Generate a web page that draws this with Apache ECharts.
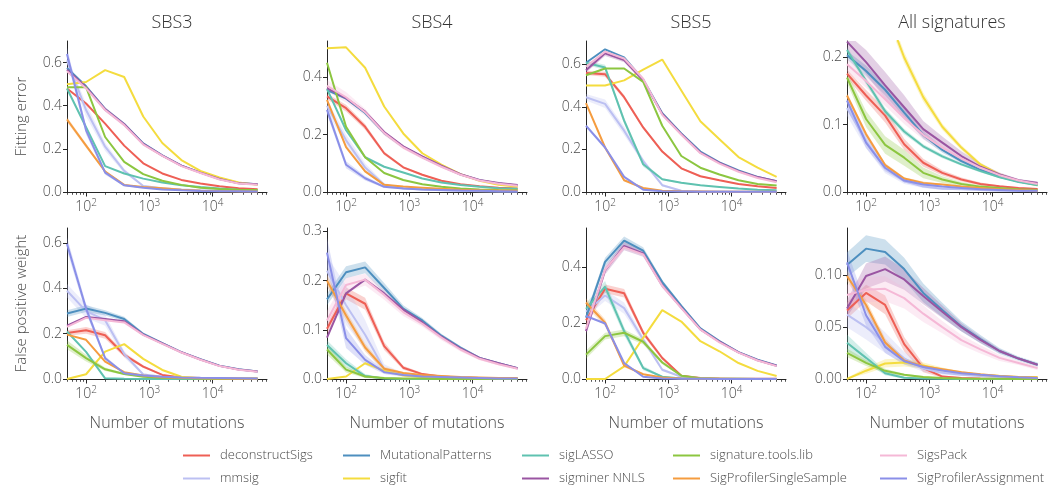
<!DOCTYPE html>
<html><head><meta charset="utf-8">
<script src="https://cdn.jsdelivr.net/npm/echarts@6/dist/echarts.min.js"></script>
<style>html,body{margin:0;padding:0;background:#fff}#c{width:1051px;height:485px}</style>
</head><body><div id="c"></div><script>
// ---------------- data ----------------
const X = [50,100,200,400,800,1600,3200,6400,12800,25600,51200];
const SERIES = ['deconstructSigs','mmsig','MutationalPatterns','sigfit','sigLASSO','sigminer NNLS','signature.tools.lib','SigProfilerSingleSample','SigsPack','SigProfilerAssignment'];
const COLORS = ['#ee5f55','#bcc0f2','#4d8fbf','#f4dc3e','#5fc2b0','#9a55a2','#8cc640','#f59c3f','#f5b8d6','#8a8fe8'];
const PANEL_TITLES = ['SBS3','SBS4','SBS5','All signatures'];
const ROW_NAMES = ['Fitting error','False positive weight'];
const X_NAME = 'Number of mutations';
const X_MAJOR = [100,1000,10000];
const X_MINOR = [50,60,70,80,90,200,300,400,500,600,700,800,900,2000,3000,4000,5000,6000,7000,8000,9000,20000,30000,40000,50000,60000,70000];
const X_RANGE = [50,72000];
const Y_MAX_FIT = [0.70,0.526,0.709,0.2245];
const Y_TICKS_FIT = [[0,0.2,0.4,0.6],[0,0.2,0.4],[0,0.2,0.4,0.6],[0,0.1,0.2]];
const Y_MAX_FP = [0.667,0.307,0.539,0.1456];
const Y_TICKS_FP = [[0,0.2,0.4,0.6],[0,0.1,0.2,0.3],[0,0.2,0.4],[0,0.05,0.1]];
const Y_DEC_FP = [1,1,1,2];

// rows in SERIES order
const FIT_SBS3 = [
 [0.48,0.41,0.317,0.215,0.133,0.086,0.056,0.039,0.027,0.017,0.0125],
 [0.61,0.38,0.21,0.098,0.028,0.017,0.012,0.008,0.006,0.004,0.003],
 [0.575,0.49,0.385,0.315,0.225,0.17,0.122,0.09,0.06,0.042,0.036],
 [0.50,0.51,0.565,0.533,0.35,0.227,0.148,0.098,0.067,0.044,0.033],
 [0.48,0.30,0.12,0.086,0.062,0.044,0.031,0.023,0.016,0.011,0.008],
 [0.567,0.486,0.383,0.314,0.223,0.169,0.122,0.09,0.06,0.04,0.036],
 [0.486,0.486,0.255,0.14,0.083,0.052,0.033,0.02,0.014,0.011,0.009],
 [0.336,0.215,0.095,0.033,0.023,0.017,0.011,0.006,0.004,0.003,0.002],
 [0.56,0.48,0.38,0.31,0.22,0.167,0.12,0.088,0.058,0.039,0.034],
 [0.64,0.286,0.09,0.031,0.02,0.012,0.008,0.005,0.004,0.003,0.002]
];
const FIT_SBS4 = [
 [0.333,0.292,0.227,0.135,0.086,0.06,0.039,0.027,0.02,0.015,0.012],
 [0.30,0.18,0.085,0.025,0.013,0.009,0.006,0.004,0.003,0.002,0.002],
 [0.355,0.325,0.275,0.205,0.157,0.122,0.09,0.061,0.041,0.03,0.023],
 [0.501,0.504,0.433,0.298,0.204,0.135,0.095,0.062,0.039,0.025,0.018],
 [0.359,0.215,0.121,0.088,0.068,0.047,0.033,0.024,0.018,0.013,0.011],
 [0.362,0.327,0.28,0.209,0.159,0.124,0.092,0.062,0.042,0.031,0.024],
 [0.45,0.227,0.121,0.066,0.042,0.027,0.018,0.012,0.009,0.007,0.006],
 [0.321,0.156,0.072,0.025,0.019,0.015,0.011,0.008,0.006,0.005,0.004],
 [0.37,0.33,0.278,0.205,0.155,0.12,0.088,0.06,0.04,0.029,0.022],
 [0.286,0.095,0.048,0.018,0.012,0.009,0.007,0.005,0.004,0.003,0.002]
];
const FIT_SBS5 = [
 [0.559,0.553,0.445,0.303,0.19,0.111,0.074,0.055,0.038,0.027,0.019],
 [0.445,0.414,0.288,0.145,0.032,0.006,0.003,0.002,0.001,0.001,0.001],
 [0.607,0.67,0.632,0.528,0.37,0.275,0.19,0.139,0.101,0.071,0.051],
 [0.50,0.50,0.524,0.575,0.622,0.477,0.332,0.248,0.164,0.114,0.071],
 [0.607,0.585,0.335,0.13,0.06,0.043,0.032,0.024,0.016,0.011,0.008],
 [0.572,0.651,0.619,0.524,0.366,0.272,0.185,0.137,0.098,0.07,0.051],
 [0.548,0.58,0.58,0.517,0.311,0.169,0.114,0.082,0.055,0.038,0.03],
 [0.417,0.209,0.055,0.019,0.006,0.003,0.002,0.001,0.001,0.001,0.001],
 [0.588,0.659,0.627,0.532,0.362,0.269,0.182,0.133,0.095,0.066,0.046],
 [0.311,0.209,0.071,0.011,0.003,0.002,0.001,0.001,0.001,0.001,0.001]
];
const FIT_ALL = [
 [0.176,0.1435,0.1135,0.071,0.0435,0.0285,0.0185,0.012,0.0085,0.006,0.0045],
 [0.125,0.075,0.035,0.016,0.008,0.005,0.004,0.003,0.002,0.002,0.001],
 [0.2035,0.18,0.152,0.118,0.085,0.0625,0.046,0.033,0.023,0.0155,0.011],
 [0.48,0.38,0.275,0.2,0.141,0.097,0.066,0.041,0.026,0.016,0.01],
 [0.211,0.165,0.12,0.09,0.068,0.053,0.041,0.031,0.022,0.015,0.01],
 [0.2235,0.193,0.1585,0.126,0.0935,0.0735,0.0535,0.0375,0.026,0.0175,0.0135],
 [0.17,0.1085,0.07,0.051,0.0285,0.0185,0.012,0.008,0.006,0.004,0.003],
 [0.1435,0.086,0.04,0.02,0.0135,0.011,0.008,0.006,0.004,0.003,0.002],
 [0.19,0.165,0.138,0.11,0.085,0.066,0.05,0.036,0.025,0.017,0.012],
 [0.136,0.0735,0.036,0.017,0.011,0.008,0.006,0.004,0.003,0.002,0.002]
];
const FP_SBS3 = [
 [0.203,0.215,0.193,0.107,0.055,0.018,0.007,0.004,0.003,0.002,0.001],
 [0.39,0.30,0.26,0.11,0.02,0.01,0.006,0.004,0.003,0.002,0.002],
 [0.289,0.311,0.292,0.265,0.199,0.158,0.119,0.087,0.059,0.043,0.033],
 [0.0,0.021,0.121,0.154,0.089,0.04,0.01,0.003,0.001,0.001,0.001],
 [0.21,0.12,0.003,0.001,0,0,0,0,0,0,0],
 [0.236,0.274,0.265,0.255,0.196,0.157,0.118,0.086,0.058,0.042,0.033],
 [0.151,0.092,0.043,0.022,0.01,0.005,0.003,0.002,0.001,0.001,0.001],
 [0.196,0.173,0.077,0.03,0.015,0.008,0.005,0.003,0.002,0.001,0.001],
 [0.23,0.27,0.26,0.25,0.194,0.155,0.117,0.085,0.057,0.041,0.032],
 [0.596,0.311,0.092,0.025,0.015,0.01,0.007,0.005,0.004,0.003,0.002]
];
const FP_SBS4 = [
 [0.102,0.174,0.153,0.067,0.023,0.01,0.005,0.003,0.002,0.001,0.001],
 [0.22,0.15,0.09,0.02,0.008,0.005,0.003,0.002,0.001,0.001,0.001],
 [0.162,0.217,0.227,0.185,0.143,0.119,0.088,0.064,0.043,0.032,0.022],
 [0.0,0.005,0.032,0.017,0.007,0.004,0.002,0.001,0.001,0.001,0.001],
 [0.069,0.032,0.006,0.001,0,0,0,0,0,0,0],
 [0.084,0.174,0.202,0.174,0.141,0.115,0.086,0.062,0.043,0.032,0.022],
 [0.06,0.019,0.005,0.002,0.001,0.001,0,0,0,0,0],
 [0.2,0.129,0.064,0.021,0.012,0.008,0.006,0.004,0.003,0.002,0.002],
 [0.119,0.191,0.202,0.171,0.136,0.112,0.084,0.06,0.041,0.03,0.021],
 [0.257,0.083,0.039,0.014,0.008,0.005,0.004,0.003,0.002,0.001,0.001]
];
const FP_SBS5 = [
 [0.21,0.322,0.306,0.165,0.075,0.012,0.004,0.002,0.001,0.001,0.001],
 [0.24,0.298,0.253,0.141,0.033,0.008,0.003,0.002,0.001,0.001,0.001],
 [0.219,0.418,0.494,0.458,0.346,0.261,0.181,0.135,0.096,0.069,0.048],
 [0,0,0.045,0.147,0.246,0.205,0.135,0.099,0.057,0.029,0.011],
 [0.25,0.33,0.171,0.039,0.008,0.002,0.001,0,0,0,0],
 [0.171,0.388,0.475,0.448,0.334,0.255,0.177,0.133,0.095,0.067,0.047],
 [0.087,0.153,0.165,0.133,0.059,0.012,0.003,0.001,0.001,0,0],
 [0.273,0.201,0.048,0.017,0.005,0.002,0.001,0.001,0,0,0],
 [0.18,0.39,0.47,0.445,0.332,0.253,0.176,0.131,0.094,0.066,0.046],
 [0.225,0.198,0.057,0.008,0.002,0.001,0.001,0,0,0,0]
];
const FP_ALL = [
 [0.066,0.083,0.0714,0.0336,0.0105,0.0023,0.001,0.0005,0.0003,0.0002,0.0001],
 [0.062,0.05,0.035,0.02,0.01,0.006,0.004,0.003,0.002,0.001,0.001],
 [0.11,0.1257,0.1224,0.106,0.083,0.0665,0.0507,0.0385,0.027,0.0197,0.0138],
 [0,0.008,0.015,0.016,0.013,0.009,0.006,0.004,0.003,0.002,0.002],
 [0.035,0.0204,0.0056,0.0013,0.0005,0.0002,0.0001,0,0,0,0],
 [0.068,0.0993,0.106,0.096,0.08,0.0648,0.05,0.0378,0.027,0.0197,0.0138],
 [0.0253,0.0155,0.0079,0.004,0.002,0.001,0.0005,0.0003,0.0002,0.0001,0.0001],
 [0.0993,0.0714,0.0352,0.0178,0.0122,0.0095,0.0066,0.0046,0.003,0.002,0.0013],
 [0.081,0.086,0.087,0.078,0.063,0.05,0.0375,0.0286,0.0204,0.0155,0.0105],
 [0.1125,0.0615,0.031,0.0171,0.0115,0.0082,0.0056,0.004,0.0026,0.0016,0.001]
];

// confidence band half-widths: [seriesIndex, values]
const BAND_FIT_SBS3 = [
 [1,[0.02,0.03,0.02,0.01,0.004,0.003,0.002,0.002,0.001,0.001,0.001]],
 [5,[0.012,0.01,0.01,0.008,0.006,0.005,0.004,0.003,0.002,0.002,0.002]],
 [7,[0.012,0.01,0.006,0.003,0.002,0.002,0.001,0.001,0.001,0.001,0.001]],
 [9,[0.03,0.02,0.01,0.004,0.002,0.002,0.001,0.001,0.001,0.001,0.001]]
];
const BAND_FIT_SBS4 = [
 [0,[0.01,0.012,0.01,0.006,0.004,0.003,0.002,0.002,0.001,0.001,0.001]],
 [1,[0.02,0.02,0.015,0.006,0.003,0.002,0.002,0.001,0.001,0.001,0.001]],
 [8,[0.02,0.018,0.012,0.008,0.006,0.005,0.004,0.003,0.002,0.002,0.002]],
 [9,[0.015,0.012,0.008,0.004,0.002,0.002,0.001,0.001,0.001,0.001,0.001]]
];
const BAND_FIT_SBS5 = [
 [0,[0.01,0.012,0.01,0.008,0.006,0.004,0.003,0.002,0.002,0.001,0.001]],
 [1,[0.015,0.02,0.02,0.012,0.006,0.002,0.001,0.001,0.001,0.001,0.001]],
 [4,[0.01,0.012,0.015,0.012,0.005,0.003,0.002,0.002,0.001,0.001,0.001]],
 [5,[0.012,0.012,0.01,0.01,0.008,0.006,0.004,0.003,0.002,0.002,0.002]]
];
const BAND_FIT_ALL = [
 [0,[0.006,0.008,0.01,0.008,0.006,0.004,0.003,0.002,0.001,0.001,0.001]],
 [1,[0.012,0.01,0.007,0.004,0.002,0.002,0.001,0.001,0.001,0.001,0.001]],
 [2,[0.006,0.008,0.008,0.007,0.006,0.004,0.003,0.002,0.002,0.001,0.001]],
 [3,[0.012,0.012,0.01,0.008,0.007,0.005,0.004,0.003,0.002,0.002,0.001]],
 [4,[0.005,0.005,0.005,0.004,0.003,0.003,0.002,0.002,0.001,0.001,0.001]],
 [5,[0.012,0.018,0.02,0.018,0.012,0.009,0.007,0.005,0.003,0.002,0.002]],
 [6,[0.008,0.012,0.013,0.012,0.008,0.005,0.003,0.002,0.001,0.001,0.001]],
 [7,[0.004,0.004,0.003,0.002,0.002,0.001,0.001,0.001,0.001,0.001,0.001]],
 [8,[0.01,0.01,0.01,0.009,0.007,0.005,0.004,0.003,0.002,0.001,0.001]],
 [9,[0.008,0.008,0.005,0.003,0.002,0.001,0.001,0.001,0.001,0.001,0.001]]
];
const BAND_FP_SBS3 = [
 [0,[0.012,0.015,0.015,0.01,0.006,0.003,0.002,0.001,0.001,0.001,0.001]],
 [1,[0.03,0.03,0.025,0.015,0.005,0.003,0.002,0.001,0.001,0.001,0.001]],
 [2,[0.015,0.015,0.012,0.01,0.006,0.005,0.004,0.003,0.002,0.002,0.002]],
 [6,[0.02,0.015,0.008,0.004,0.002,0.001,0.001,0.001,0.001,0.001,0.001]],
 [9,[0.03,0.02,0.01,0.004,0.002,0.002,0.001,0.001,0.001,0.001,0.001]]
];
const BAND_FP_SBS4 = [
 [0,[0.01,0.012,0.012,0.008,0.004,0.002,0.001,0.001,0.001,0.001,0.001]],
 [1,[0.03,0.04,0.03,0.01,0.004,0.002,0.001,0.001,0.001,0.001,0.001]],
 [2,[0.012,0.012,0.012,0.01,0.007,0.005,0.004,0.003,0.002,0.002,0.001]],
 [4,[0.01,0.008,0.004,0.001,0,0,0,0,0,0,0]],
 [6,[0.01,0.006,0.003,0.001,0,0,0,0,0,0,0]],
 [7,[0.012,0.01,0.008,0.004,0.002,0.001,0.001,0.001,0.001,0.001,0.001]],
 [8,[0.02,0.015,0.012,0.01,0.008,0.006,0.005,0.004,0.003,0.002,0.002]],
 [9,[0.03,0.02,0.01,0.004,0.002,0.001,0.001,0.001,0.001,0.001,0.001]]
];
const BAND_FP_SBS5 = [
 [0,[0.02,0.015,0.015,0.01,0.006,0.003,0.001,0.001,0.001,0.001,0.001]],
 [1,[0.02,0.02,0.02,0.012,0.005,0.002,0.001,0.001,0.001,0.001,0.001]],
 [2,[0.015,0.015,0.015,0.012,0.008,0.006,0.005,0.004,0.003,0.002,0.002]],
 [4,[0.02,0.02,0.015,0.008,0.003,0.001,0,0,0,0,0]],
 [5,[0.015,0.015,0.015,0.012,0.008,0.006,0.005,0.004,0.003,0.002,0.002]],
 [6,[0.015,0.012,0.012,0.01,0.006,0.003,0.001,0.001,0,0,0]],
 [7,[0.015,0.012,0.006,0.003,0.001,0,0,0,0,0,0]]
];
const BAND_FP_ALL = [
 [0,[0.008,0.008,0.009,0.007,0.004,0.001,0.001,0,0,0,0]],
 [1,[0.012,0.012,0.01,0.006,0.003,0.002,0.001,0.001,0.001,0,0]],
 [2,[0.012,0.013,0.012,0.011,0.009,0.007,0.005,0.004,0.003,0.002,0.002]],
 [3,[0.001,0.003,0.004,0.004,0.003,0.002,0.001,0.001,0.001,0,0]],
 [4,[0.008,0.005,0.002,0.001,0,0,0,0,0,0,0]],
 [5,[0.008,0.012,0.012,0.01,0.008,0.006,0.004,0.003,0.002,0.001,0.001]],
 [6,[0.004,0.003,0.002,0.001,0.001,0,0,0,0,0,0]],
 [7,[0.005,0.005,0.004,0.002,0.001,0.001,0.001,0,0,0,0]],
 [8,[0.01,0.012,0.012,0.01,0.008,0.006,0.005,0.004,0.003,0.002,0.002]],
 [9,[0.012,0.01,0.006,0.003,0.002,0.001,0.001,0,0,0,0]]
];

// ---------------- layout ----------------
const PANELS = [
 {row:0,col:0,data:FIT_SBS3,band:BAND_FIT_SBS3},
 {row:0,col:1,data:FIT_SBS4,band:BAND_FIT_SBS4},
 {row:0,col:2,data:FIT_SBS5,band:BAND_FIT_SBS5},
 {row:0,col:3,data:FIT_ALL,band:BAND_FIT_ALL},
 {row:1,col:0,data:FP_SBS3,band:BAND_FP_SBS3},
 {row:1,col:1,data:FP_SBS4,band:BAND_FP_SBS4},
 {row:1,col:2,data:FP_SBS5,band:BAND_FP_SBS5},
 {row:1,col:3,data:FP_ALL,band:BAND_FP_ALL}
];
const GRID_LEFT = [67,327,586,847];
const GRID_TOP = [41,228];
const GRID_H = [151,151];
const GW = 200;
const FONT = '"Open Sans", "DejaVu Sans", sans-serif';
const TXT = '#4a4a4a';
const AX = '#262626';

const grids=[], xAxes=[], yAxes=[], series=[], titles=[];
PANELS.forEach((P,p)=>{
  grids.push({left:GRID_LEFT[P.col], top:GRID_TOP[P.row], width:GW, height:GRID_H[P.row], containLabel:false});
  const isBottom = P.row===1;
  xAxes.push({
    type:'log', logBase:10, gridIndex:p, min:X_RANGE[0], max:X_RANGE[1], position:'bottom',
    axisLine:{show:true,onZero:false,lineStyle:{color:AX,width:1}},
    axisTick:{show:true,length:4.5,lineStyle:{color:AX,width:1},customValues:X_MAJOR},
    axisLabel:{customValues:X_MAJOR,color:TXT,fontFamily:FONT,fontWeight:300,fontSize:14,margin:6,
      formatter:v=>'10{s|'+Math.round(Math.log10(v))+'}',
      rich:{s:{fontSize:10,fontFamily:FONT,fontWeight:300,color:TXT,verticalAlign:'top',padding:[0,0,8,0]}}},
    splitLine:{show:false},
    name:isBottom?X_NAME:'', nameLocation:'middle', nameGap:36,
    nameTextStyle:{fontSize:16,fontFamily:FONT,fontWeight:300,color:TXT}
  });
  xAxes.push({
    type:'log', logBase:10, gridIndex:p, min:X_RANGE[0], max:X_RANGE[1], position:'bottom', offset:0,
    axisLine:{show:false},
    axisTick:{show:true,length:2.8,lineStyle:{color:AX,width:0.8},customValues:X_MINOR},
    axisLabel:{show:false}, splitLine:{show:false}
  });
  const ticks = isBottom?Y_TICKS_FP[P.col]:Y_TICKS_FIT[P.col];
  const dec = isBottom?Y_DEC_FP[P.col]:1;
  yAxes.push({
    type:'value', gridIndex:p, min:0, max:isBottom?Y_MAX_FP[P.col]:Y_MAX_FIT[P.col],
    axisLine:{show:true,lineStyle:{color:AX,width:1}},
    axisTick:{show:true,length:4,lineStyle:{color:AX,width:1},customValues:ticks},
    axisLabel:{customValues:ticks,formatter:v=>v.toFixed(dec),color:TXT,fontFamily:FONT,fontWeight:300,fontSize:14,margin:5},
    splitLine:{show:false},
    name:P.col===0?ROW_NAMES[P.row]:'', nameLocation:'middle', nameGap:38,
    nameTextStyle:{fontSize:15,fontFamily:FONT,fontWeight:300,color:TXT}
  });
  // bands (custom polygon through the axes' scales)
  P.band.forEach(([s,err])=>{
    const vals=P.data[s];
    const rows = X.map((x,i)=>[x, Math.max(0, vals[i]-err[i]), vals[i]+err[i]]);
    series.push({type:'custom', name:'band_'+p+'_'+s, xAxisIndex:2*p, yAxisIndex:p, silent:true, z:1,
      data:rows, encode:{x:0,y:[1,2]},
      renderItem:(params,api)=>{
        if(params.dataIndex!==0) return null;
        const top=[], bot=[];
        rows.forEach(r=>{ top.push(api.coord([r[0],r[2]])); bot.push(api.coord([r[0],r[1]])); });
        const cs=params.coordSys;
        return {type:'polygon', shape:{points:top.concat(bot.reverse())},
          style:{fill:COLORS[s], opacity:0.28},
          clipPath:{type:'rect', shape:{x:cs.x,y:cs.y,width:cs.width,height:cs.height}}};
      }
    });
  });
  // lines
  P.data.forEach((vals,s)=>{
    series.push({type:'line',name:SERIES[s],xAxisIndex:2*p,yAxisIndex:p,
      data:X.map((x,i)=>[x,vals[i]]),symbol:'none',showSymbol:false,
      lineStyle:{width:2,color:COLORS[s]},itemStyle:{color:COLORS[s]},z:3,emphasis:{disabled:true}});
  });
});
PANEL_TITLES.forEach((t,c)=>{
  titles.push({text:t,left:GRID_LEFT[c]+GW/2,top:9,textAlign:'center',
    textStyle:{fontSize:18,fontFamily:FONT,fontWeight:300,color:'#333'}});
});
const LEG_COLS = [[0,1],[2,3],[4,5],[6,7],[8,9]];
const LEG_LEFT = [183,343,522,673,880];
const legends = LEG_COLS.map((cols,i)=>({
  orient:'vertical', left:LEG_LEFT[i], top:449, padding:0, itemGap:10,
  itemWidth:27, itemHeight:2, icon:'rect', selectedMode:false,
  data:cols.map(s=>SERIES[s]),
  textStyle:{fontSize:13,fontFamily:FONT,fontWeight:300,color:TXT,padding:[0,0,0,5]}
}));

const chart = echarts.init(document.getElementById('c'),null,{renderer:'canvas'});
chart.setOption({
  animation:false, backgroundColor:'#fff',
  title:titles, legend:legends, grid:grids, xAxis:xAxes, yAxis:yAxes, series:series
});
</script></body></html>
